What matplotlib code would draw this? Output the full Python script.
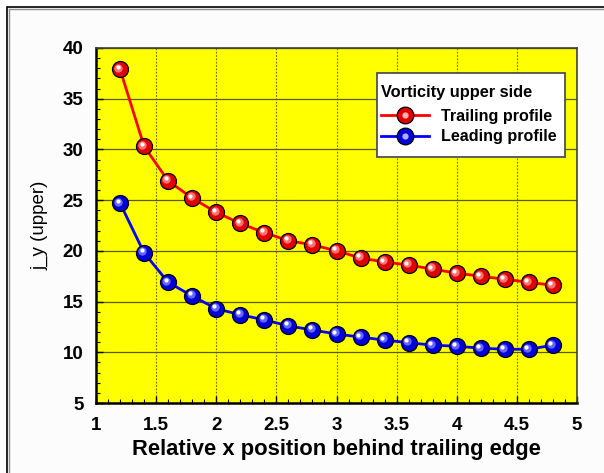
import matplotlib
matplotlib.use("Agg")
import matplotlib.pyplot as plt
from matplotlib.lines import Line2D
from matplotlib.patches import Rectangle
import matplotlib.transforms as mtransforms

x_pos = [1.2, 1.4, 1.6, 1.8, 2.0, 2.2, 2.4, 2.6, 2.8, 3.0, 3.2, 3.4, 3.6, 3.8, 4.0, 4.2, 4.4, 4.6, 4.8]
trailing = [37.9, 30.3, 26.9, 25.2, 23.8, 22.7, 21.8, 21.0, 20.6, 20.0, 19.3, 18.9, 18.6, 18.2, 17.8, 17.5, 17.2, 16.9, 16.6]
leading = [24.7, 19.8, 16.9, 15.55, 14.3, 13.7, 13.2, 12.6, 12.2, 11.8, 11.5, 11.2, 10.95, 10.7, 10.6, 10.4, 10.3, 10.3, 10.7]
x_ticks = [1, 1.5, 2, 2.5, 3, 3.5, 4, 4.5, 5]
x_ticklabels = ["1", "1.5", "2", "2.5", "3", "3.5", "4", "4.5", "5"]
y_ticks = [5, 10, 15, 20, 25, 30, 35, 40]

plt.rcParams['font.family'] = ['Liberation Sans', 'DejaVu Sans']

fig = plt.figure(figsize=(6.04, 4.73), dpi=100)
fig.patch.set_facecolor('white')
W, H = 604, 473

# outer frame (left and top double line)
fig.add_artist(Rectangle((7.5 / W, -0.1), 1.2, (H - 7.5) / H + 0.1, transform=fig.transFigure,
                         fill=True, facecolor='#fcfcfc', edgecolor='black', lw=1.2, zorder=0))
fig.add_artist(Line2D([9 / W, 1], [(H - 9) / H, (H - 9) / H], transform=fig.transFigure, color='#909090', lw=1))
fig.add_artist(Line2D([9 / W, 9 / W], [0, (H - 9) / H], transform=fig.transFigure, color='#909090', lw=1))

ax = fig.add_axes([96 / W, 70 / H, (577 - 96) / W, (403 - 48) / H])
ax.set_facecolor('#ffff00')
ax.set_xlim(1, 5)
ax.set_ylim(5, 40)
ax.set_xticks(x_ticks)
ax.set_xticklabels(x_ticklabels)
ax.set_yticks(y_ticks)
ax.set_xticks([1 + 0.1 * i for i in range(41)], minor=True)
ax.set_yticks(list(range(5, 41)), minor=True)
ax.tick_params(axis='both', which='both', direction='in', colors='black', labelsize=13.5)
ax.tick_params(which='major', length=5, width=1)
ax.tick_params(which='minor', length=3, width=0.8)
ax.tick_params(axis='x', pad=10)
ax.tick_params(axis='y', pad=9)
for lab in ax.get_xticklabels() + ax.get_yticklabels():
    lab.set_fontweight('bold')

ax.yaxis.grid(True, which='major', color='#5a5a00', lw=0.9, ls='-')
ax.xaxis.grid(True, which='major', color='#6a6a00', lw=0.8, ls=(0, (1.5, 1.5)))
ax.set_axisbelow(True)

ax.spines['left'].set_linewidth(1.8)
ax.spines['bottom'].set_linewidth(1.8)
ax.spines['top'].set_color('#404040')
ax.spines['right'].set_color('#404040')
ax.spines['top'].set_linewidth(1.2)
ax.spines['right'].set_linewidth(1.2)

def sphere_series(xs, ys, line_color, face, highlight):
    ax.plot(xs, ys, color=line_color, lw=2, zorder=3)
    ax.plot(xs, ys, ls='none', marker='o', ms=11.5, mfc=face, mec='black', mew=0.9, zorder=4)
    tr1 = mtransforms.offset_copy(ax.transData, fig=fig, x=-1.2, y=1.2, units='points')
    ax.plot(xs, ys, ls='none', marker='o', ms=6, mfc=highlight, mec='none', alpha=0.8, zorder=5, transform=tr1)
    tr2 = mtransforms.offset_copy(ax.transData, fig=fig, x=-1.8, y=1.8, units='points')
    ax.plot(xs, ys, ls='none', marker='o', ms=3, mfc='white', mec='none', zorder=6, transform=tr2)

sphere_series(x_pos, trailing, 'red', '#e00000', '#ff9090')
sphere_series(x_pos, leading, 'blue', '#0000d8', '#8080ff')

# legend frame drawn explicitly (pixel box 377..565 x 73..157)
fig.add_artist(Rectangle((377 / W, (H - 157) / H), (565 - 377) / W, (157 - 73) / H,
                         transform=fig.transFigure, facecolor='white', edgecolor='#505050',
                         lw=1.3, zorder=8))

handles = [
    (Line2D([], [], color='red', lw=2, marker='o', ms=12, mfc='#e00000', mec='black', mew=0.9),
     Line2D([], [], ls='none', marker='o', ms=4.5, mfc='#ffb0b0', mec='none')),
    (Line2D([], [], color='blue', lw=2, marker='o', ms=12, mfc='#0000d8', mec='black', mew=0.9),
     Line2D([], [], ls='none', marker='o', ms=4.5, mfc='#b0b0ff', mec='none')),
]
leg = fig.legend(handles, ['Trailing profile', 'Leading profile'], title='Vorticity upper side',
                 loc='upper left', bbox_to_anchor=(381 / W, (H - 85) / H),
                 frameon=False, prop={'weight': 'bold', 'size': 11.6},
                 title_fontproperties={'weight': 'bold', 'size': 11.8},
                 handlelength=3.0, borderpad=0.0, labelspacing=0.32, handletextpad=0.7,
                 borderaxespad=0)
leg._legend_box.align = 'left'
leg._legend_box.sep = 6.5
leg.set_zorder(10)

ax.set_xlabel('Relative x position behind trailing edge', fontsize=15.8, fontweight='bold', labelpad=4)
ax.set_ylabel('j_y (upper)', fontsize=13.5, labelpad=10)

fig.savefig('out.png', dpi=100)
